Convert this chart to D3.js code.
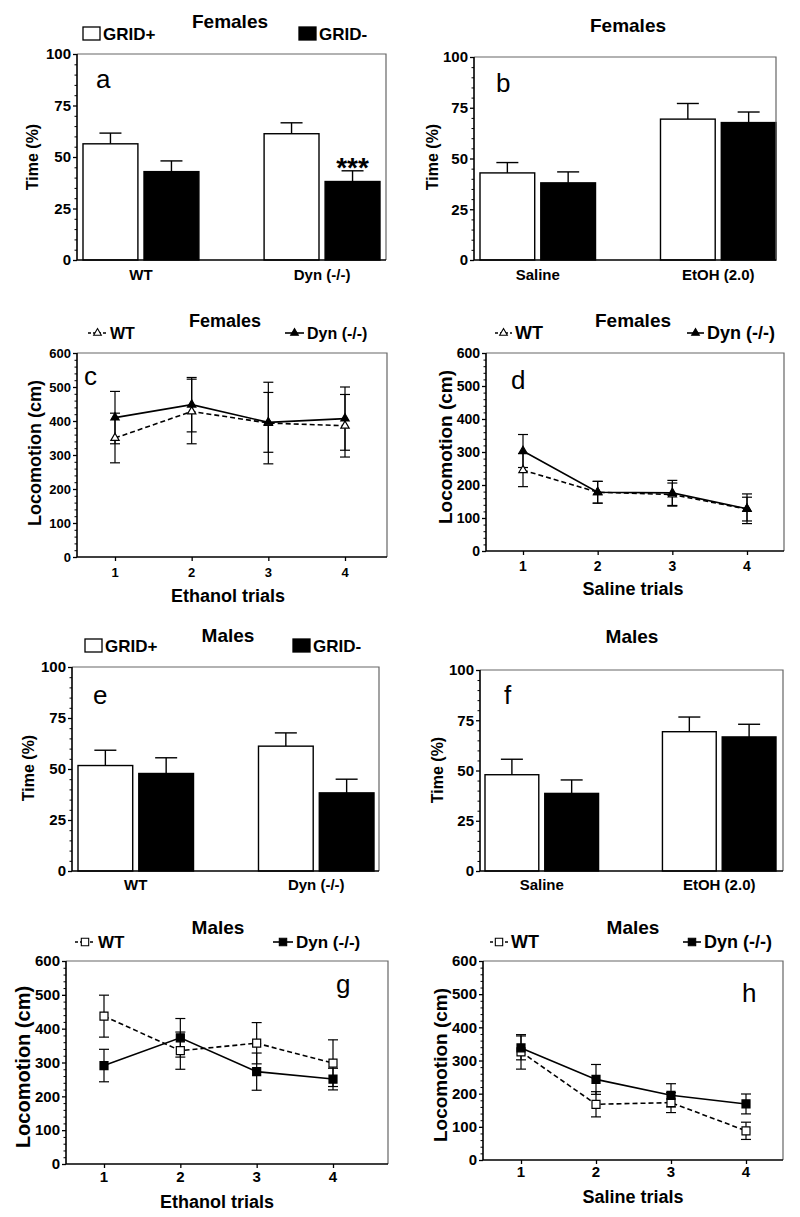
<!DOCTYPE html>
<html><head><meta charset="utf-8">
<script src="https://cdn.jsdelivr.net/npm/d3@7"></script>
<style>body{margin:0;background:#fff} text{font-family:"Liberation Sans",Arial,sans-serif}</style>
</head><body><svg id="chart" width="800" height="1217"></svg>
<script>
// ---------- data ----------
const groupsGenotype = ["WT", "Dyn (-/-)"];
const groupsTreatment = ["Saline", "EtOH (2.0)"];
const gridSeries = ["GRID+", "GRID-"];
const timeTicks = [0, 25, 50, 75, 100];
const locoTicks = [0, 100, 200, 300, 400, 500, 600];
const trials = [1, 2, 3, 4];
const lineSeries = ["WT", "Dyn (-/-)"];

// Panel a (Females, genotype)
const aGridPlus = [56.4, 61.3];
const aGridPlusErr = [5.2, 5.3];
const aGridMinus = [42.9, 38.1];
const aGridMinusErr = [5.2, 5.2];
// Panel b (Females, treatment)
const bGridPlus = [42.9, 69.4];
const bGridPlusErr = [5.1, 7.7];
const bGridMinus = [38.0, 67.7];
const bGridMinusErr = [5.4, 5.2];
// Panel e (Males, genotype)
const eGridPlus = [51.7, 61.2];
const eGridPlusErr = [7.5, 6.5];
const eGridMinus = [47.8, 38.3];
const eGridMinusErr = [7.7, 6.7];
// Panel f (Males, treatment)
const fGridPlus = [47.9, 69.3];
const fGridPlusErr = [7.7, 7.3];
const fGridMinus = [38.6, 66.7];
const fGridMinusErr = [6.7, 6.3];

// Panel c (Females, ethanol trials)
const cWT = [350, 428, 394, 386];
const cWTErr = [73, 95, 120, 92];
const cDyn = [410, 448, 396, 407];
const cDynErr = [77, 80, 88, 93];
// Panel d (Females, saline trials)
const dWT = [245, 178, 171, 127];
const dWTErr = [50, 33, 35, 36];
const dDyn = [303, 178, 176, 128];
const dDynErr = [50, 33, 38, 45];
// Panel g (Males, ethanol trials)
const gWT = [437, 335, 357, 298];
const gWTErr = [62, 55, 61, 69];
const gDyn = [291, 373, 273, 251];
const gDynErr = [48, 57, 55, 32];
// Panel h (Males, saline trials)
const hWT = [326, 168, 173, 88];
const hWTErr = [52, 38, 30, 26];
const hDyn = [338, 243, 195, 169];
const hDynErr = [36, 45, 35, 30];

const sigLabel = "***";

// ---------- drawing ----------
const svg = d3.select("#chart");
const FONT = '"Liberation Sans", Arial, sans-serif';

function frame(g, L, T, R, B) {
  g.append("path").attr("d", `M${L},${T}H${R}V${B}`).attr("fill", "none")
    .attr("stroke", "#666").attr("stroke-width", 1.2);
  g.append("path").attr("d", `M${L},${T}V${B}H${R}`).attr("fill", "none")
    .attr("stroke", "#000").attr("stroke-width", 1.6);
}

function yAxis(g, y, L, ticks, minorStep, fs) {
  const ax = g.append("g").attr("transform", `translate(${L},0)`)
    .call(d3.axisLeft(y).tickValues(ticks).tickSize(4).tickSizeOuter(0).tickPadding(2));
  ax.select(".domain").remove();
  ax.selectAll("line").attr("stroke", "#000").attr("stroke-width", 1.3);
  ax.selectAll("text").attr("font-family", FONT).attr("font-weight", "bold")
    .attr("font-size", fs).attr("fill", "#000");
  const d = y.domain();
  const minor = d3.range(d[0], d[1] + 0.001, minorStep).filter(v => !ticks.includes(v));
  const mx = g.append("g").attr("transform", `translate(${L},0)`)
    .call(d3.axisLeft(y).tickValues(minor).tickSize(2.5).tickFormat(""));
  mx.select(".domain").remove();
  mx.selectAll("line").attr("stroke", "#000").attr("stroke-width", 1);
}

function yTitle(g, txt, x, y, fs) {
  g.append("text").attr("transform", `translate(${x},${y}) rotate(-90)`)
    .attr("text-anchor", "middle").attr("dy", "0.35em")
    .attr("font-weight", "bold").attr("font-size", fs).text(txt);
}

function textAt(g, txt, x, y, fs, anchor, weight) {
  return g.append("text").attr("x", x).attr("y", y).attr("text-anchor", anchor || "start")
    .attr("font-weight", weight || "bold").attr("font-size", fs).attr("fill", "#000").text(txt);
}

function barPanel(cfg) {
  const g = svg.append("g");
  const {L, T, R, B} = cfg;
  const y = d3.scaleLinear().domain([0, 100]).range([B, T]);
  const x0 = d3.scaleBand().domain(cfg.groups).range(cfg.bandRange).paddingInner(0.36).paddingOuter(0);
  const x1 = d3.scaleBand().domain(gridSeries).range([0, x0.bandwidth()]).paddingInner(0.1);
  const series = [
    {key: "GRID+", vals: cfg.plus, errs: cfg.plusErr, fill: "#fff"},
    {key: "GRID-", vals: cfg.minus, errs: cfg.minusErr, fill: "#000"}
  ];
  series.forEach(s => {
    cfg.groups.forEach((grp, i) => {
      const bx = x0(grp) + x1(s.key);
      const bw = x1.bandwidth();
      const cx = bx + bw / 2;
      const top = y(s.vals[i] + s.errs[i]);
      g.append("line").attr("x1", cx).attr("x2", cx).attr("y1", y(s.vals[i])).attr("y2", top)
        .attr("stroke", "#000").attr("stroke-width", 1.4);
      g.append("line").attr("x1", cx - 11).attr("x2", cx + 11).attr("y1", top).attr("y2", top)
        .attr("stroke", "#000").attr("stroke-width", 1.4);
      g.append("rect").attr("x", bx).attr("y", y(s.vals[i])).attr("width", bw)
        .attr("height", y(0) - y(s.vals[i])).attr("fill", s.fill)
        .attr("stroke", "#000").attr("stroke-width", 1.4);
    });
  });
  frame(g, L, T, R, B);
  yAxis(g, y, L, timeTicks, 5, cfg.tickFs);
  cfg.groups.forEach(grp => {
    textAt(g, grp, x0(grp) + x0.bandwidth() / 2, cfg.xLabY, cfg.xFs, "middle");
  });
  yTitle(g, "Time (%)", cfg.yTitleX, cfg.yTitleY, cfg.yTitleFs);
  textAt(g, cfg.title, cfg.titleX, cfg.titleY, cfg.titleFs, "middle");
  textAt(g, cfg.letter, cfg.letterX, cfg.letterY, 26, "start", "normal");
  if (cfg.legend) {
    const lg = cfg.legend;
    [["GRID+", "#fff", lg.x1], ["GRID-", "#000", lg.x2]].forEach(([lab, fill, lx]) => {
      g.append("rect").attr("x", lx).attr("y", lg.y).attr("width", 17).attr("height", 13)
        .attr("fill", fill).attr("stroke", "#000").attr("stroke-width", 1.3);
      textAt(g, lab, lx + 20, lg.y + 13, lg.fs, "start");
    });
  }
  if (cfg.sig) {
    const grp = cfg.groups[1];
    const cx = x0(grp) + x1("GRID-") + x1.bandwidth() / 2;
    textAt(g, sigLabel, cx, cfg.sigY, 28, "middle");
  }
}

function linePanel(cfg) {
  const g = svg.append("g");
  const {L, T, R, B} = cfg;
  const y = d3.scaleLinear().domain([0, 600]).range([B, T]);
  const x = d3.scaleLinear().domain([1, 4]).range(cfg.xRange);
  const sym = cfg.shape === "tri" ? d3.symbolTriangle : d3.symbolSquare;
  const symSize = cfg.shape === "tri" ? 30 : 64;
  const series = [
    {vals: cfg.wt, errs: cfg.wtErr, dash: "5,3", fill: "#fff"},
    {vals: cfg.dyn, errs: cfg.dynErr, dash: null, fill: "#000"}
  ];
  // error bars
  series.forEach(s => {
    trials.forEach((t, i) => {
      const cx = x(t), lo = y(s.vals[i] - s.errs[i]), hi = y(s.vals[i] + s.errs[i]);
      g.append("line").attr("x1", cx).attr("x2", cx).attr("y1", lo).attr("y2", hi)
        .attr("stroke", "#000").attr("stroke-width", 1.2);
      [lo, hi].forEach(yy => g.append("line").attr("x1", cx - 5).attr("x2", cx + 5)
        .attr("y1", yy).attr("y2", yy).attr("stroke", "#000").attr("stroke-width", 1.2));
    });
  });
  const line = d3.line().x((d, i) => x(trials[i])).y(d => y(d));
  series.forEach(s => {
    g.append("path").attr("d", line(s.vals)).attr("fill", "none").attr("stroke", "#000")
      .attr("stroke-width", 1.6).attr("stroke-dasharray", s.dash);
  });
  series.forEach(s => {
    trials.forEach((t, i) => {
      g.append("path").attr("d", d3.symbol(sym, symSize)())
        .attr("transform", `translate(${x(t)},${y(s.vals[i])})`)
        .attr("fill", s.fill).attr("stroke", "#000").attr("stroke-width", 1.2);
    });
  });
  frame(g, L, T, R, B);
  yAxis(g, y, L, locoTicks, 20, cfg.tickFs);
  const xa = g.append("g").attr("transform", `translate(0,${B})`)
    .call(d3.axisBottom(x).tickValues(trials).tickSize(4).tickSizeOuter(0).tickFormat(d3.format("d")));
  xa.select(".domain").remove();
  xa.selectAll("line").attr("stroke", "#000").attr("stroke-width", 1.3);
  xa.selectAll("text").remove();
  trials.forEach(t => textAt(g, String(t), x(t), cfg.xTickY, cfg.tickFs, "middle"));
  textAt(g, cfg.xTitle, cfg.xTitleX, cfg.xTitleY, cfg.xTitleFs, "middle");
  yTitle(g, "Locomotion (cm)", cfg.yTitleX, cfg.yTitleY, cfg.yTitleFs);
  textAt(g, cfg.title, cfg.titleX, cfg.titleY, cfg.titleFs, "middle");
  textAt(g, cfg.letter, cfg.letterX, cfg.letterY, 26, "start", "normal");
  // legend
  const lg = cfg.legend;
  [[lineSeries[0], lg.wx, "3,2", "#fff"], [lineSeries[1], lg.dx, null, "#000"]].forEach(([lab, lx, dash, fill]) => {
    g.append("line").attr("x1", lx).attr("x2", lx + lg.len).attr("y1", lg.y).attr("y2", lg.y)
      .attr("stroke", "#000").attr("stroke-width", 1.6).attr("stroke-dasharray", dash);
    g.append("path").attr("d", d3.symbol(sym, symSize * 0.85)())
      .attr("transform", `translate(${lx + lg.len / 2},${lg.y})`)
      .attr("fill", fill).attr("stroke", "#000").attr("stroke-width", 1.1);
    textAt(g, lab, lx + lg.len + 3, lg.y + lg.fs * 0.36, lg.fs, "start");
  });
}

barPanel({L: 77, T: 54, R: 386, B: 260, groups: groupsGenotype, bandRange: [83, 380],
  plus: aGridPlus, plusErr: aGridPlusErr, minus: aGridMinus, minusErr: aGridMinusErr,
  tickFs: 15, xFs: 15, xLabY: 280, yTitleX: 32, yTitleY: 157, yTitleFs: 16,
  title: "Females", titleX: 230, titleY: 28, titleFs: 19, letter: "a", letterX: 96, letterY: 88,
  legend: {x1: 83, x2: 299, y: 27, fs: 17}, sig: true, sigY: 177});
barPanel({L: 474, T: 57, R: 776, B: 260, groups: groupsTreatment, bandRange: [480, 776],
  plus: bGridPlus, plusErr: bGridPlusErr, minus: bGridMinus, minusErr: bGridMinusErr,
  tickFs: 15, xFs: 15, xLabY: 280, yTitleX: 432, yTitleY: 157, yTitleFs: 16,
  title: "Females", titleX: 628, titleY: 32, titleFs: 19, letter: "b", letterX: 496, letterY: 92});
barPanel({L: 72, T: 667, R: 379, B: 871, groups: groupsGenotype, bandRange: [78, 374],
  plus: eGridPlus, plusErr: eGridPlusErr, minus: eGridMinus, minusErr: eGridMinusErr,
  tickFs: 15, xFs: 15, xLabY: 890, yTitleX: 28, yTitleY: 768, yTitleFs: 16,
  title: "Males", titleX: 228, titleY: 642, titleFs: 19, letter: "e", letterX: 93, letterY: 704,
  legend: {x1: 85, x2: 293, y: 639, fs: 17}});
barPanel({L: 480, T: 670, R: 783, B: 871, groups: groupsTreatment, bandRange: [485, 776],
  plus: fGridPlus, plusErr: fGridPlusErr, minus: fGridMinus, minusErr: fGridMinusErr,
  tickFs: 15, xFs: 15, xLabY: 890, yTitleX: 437, yTitleY: 770, yTitleFs: 16,
  title: "Males", titleX: 632, titleY: 643, titleFs: 19, letter: "f", letterX: 504, letterY: 704});

linePanel({L: 77, T: 353, R: 387, B: 557, xRange: [115, 345], shape: "tri",
  wt: cWT, wtErr: cWTErr, dyn: cDyn, dynErr: cDynErr, tickFs: 13, xTickY: 577,
  xTitle: "Ethanol trials", xTitleX: 228, xTitleY: 602, xTitleFs: 18,
  yTitleX: 35, yTitleY: 453, yTitleFs: 18, title: "Females", titleX: 225, titleY: 327, titleFs: 18,
  letter: "c", letterX: 84, letterY: 385, legend: {wx: 88, dx: 285, len: 19, y: 333, fs: 16}});
linePanel({L: 486, T: 353, R: 784, B: 551, xRange: [523, 747], shape: "tri",
  wt: dWT, wtErr: dWTErr, dyn: dDyn, dynErr: dDynErr, tickFs: 14, xTickY: 571,
  xTitle: "Saline trials", xTitleX: 633, xTitleY: 595, xTitleFs: 18,
  yTitleX: 445, yTitleY: 447, yTitleFs: 19, title: "Females", titleX: 633, titleY: 327, titleFs: 19,
  letter: "d", letterX: 511, letterY: 389, legend: {wx: 495, dx: 687, len: 17, y: 333, fs: 18}});
linePanel({L: 66, T: 961, R: 388, B: 1164, xRange: [104, 333], shape: "sq",
  wt: gWT, wtErr: gWTErr, dyn: gDyn, dynErr: gDynErr, tickFs: 15, xTickY: 1182,
  xTitle: "Ethanol trials", xTitleX: 217, xTitleY: 1208, xTitleFs: 18,
  yTitleX: 23, yTitleY: 1067, yTitleFs: 20, title: "Males", titleX: 218, titleY: 934, titleFs: 19,
  letter: "g", letterX: 336, letterY: 993, legend: {wx: 75, dx: 273, len: 20, y: 942, fs: 17}});
linePanel({L: 483, T: 961, R: 783, B: 1160, xRange: [521, 746], shape: "sq",
  wt: hWT, wtErr: hWTErr, dyn: hDyn, dynErr: hDynErr, tickFs: 15, xTickY: 1177,
  xTitle: "Saline trials", xTitleX: 633, xTitleY: 1203, xTitleFs: 18,
  yTitleX: 440, yTitleY: 1065, yTitleFs: 19, title: "Males", titleX: 633, titleY: 934, titleFs: 19,
  letter: "h", letterX: 742, letterY: 1002, legend: {wx: 490, dx: 683, len: 18, y: 942, fs: 18}});
</script></body></html>
